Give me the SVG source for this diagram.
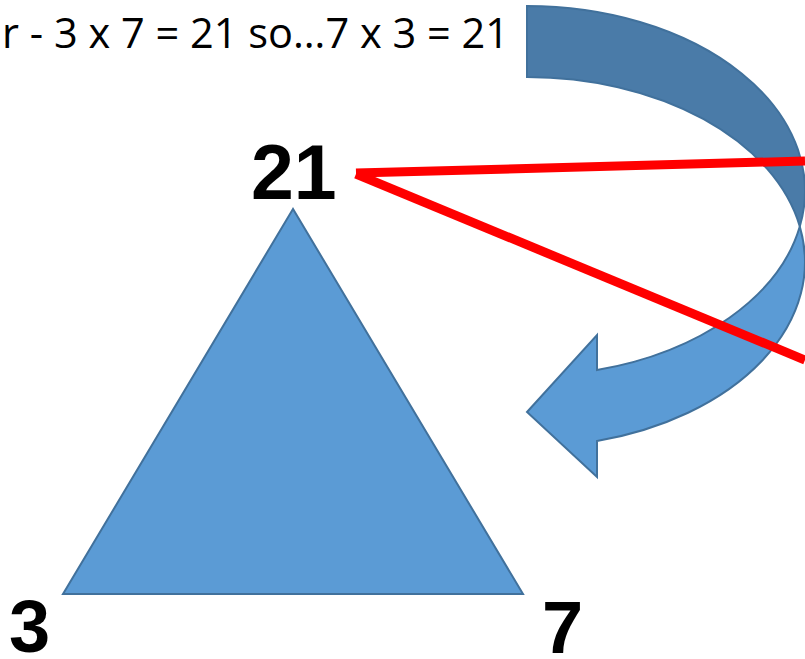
<svg xmlns="http://www.w3.org/2000/svg" width="805" height="659" viewBox="0 0 805 659">
  <style>
    .shape { stroke: #41719C; stroke-width: 2; stroke-linejoin: miter; }
    .light { fill: #5B9BD5; }
    .dark { fill: #4A7BA8; }
    .num { font-family: "Liberation Sans", Arial, sans-serif; font-weight: bold; fill: #000; }
    .caption { font-family: "Open Sans", "Liberation Sans", sans-serif; font-size: 42px; fill: #000; }
    .red { stroke: #FF0000; stroke-width: 9; stroke-linecap: butt; fill: none; }
  </style>
  <rect width="805" height="659" fill="#FFFFFF"/>

  <text class="caption" x="2" y="48" textLength="507" lengthAdjust="spacingAndGlyphs">r - 3 x 7 = 21 so…7 x 3 = 21</text>

  <g id="curved-arrow">
    <path class="shape dark" d="M527,6 A278,185 0 0 1 799.8,226.5 A278,185 0 0 0 527,77 Z"/>
    <path class="shape light" d="M799.8,226.5 A278,185 0 0 1 597,441 L597,477 L527,412 L597,335 L597,370 A278,185 0 0 0 799.8,226.5 Z"/>
  </g>

  <g id="triangle">
    <polygon class="shape light" points="293,209 63,594 523,594"/>
  </g>

  <g id="label-21">
    <text class="num" x="251" y="199" font-size="77">21</text>
  </g>
  <g id="label-3">
    <text class="num" x="9" y="652" font-size="74">3</text>
  </g>
  <g id="label-7">
    <text class="num" x="542" y="653" font-size="74">7</text>
  </g>

  <g id="connectors">
    <line class="red" x1="356" y1="173" x2="805" y2="161"/>
    <line class="red" x1="356" y1="174" x2="805" y2="360"/>
  </g>
</svg>
